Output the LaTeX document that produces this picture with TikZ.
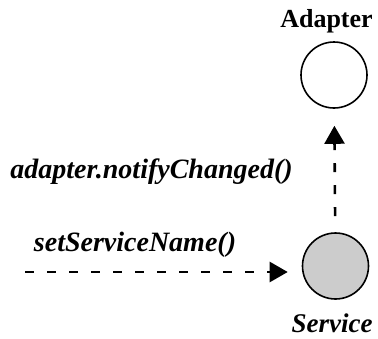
\documentclass[tikz,border=0pt]{standalone}
\usepackage{fontspec}
\setmainfont{Liberation Serif}
\usetikzlibrary{arrows.meta}
\begin{document}
\begin{tikzpicture}[x=1pt,y=-1pt,
    component/.style ={circle, draw, line width=1.6pt, minimum size=66pt, inner sep=0pt},
    call/.style ={line width=2.6pt, dash pattern=on 9pt off 13pt, -{Triangle[length=18pt,width=20pt]}},
    title/.style ={font=\fontsize{26}{30}\selectfont\bfseries, anchor=base, inner sep=0pt},
    message/.style ={font=\fontsize{28}{32}\selectfont\bfseries\itshape, anchor=base, inner sep=0pt}]
   \useasboundingbox (0,0) rectangle (378,338);
   \node[component] (A) at (334,75)  {};
   \node[component, fill=black!20] (S)  at (335.5,266)  {};
   \coordinate (in) at (25,272);

   \node[title] (Alabel) at (326.5,27) {Adapter};
   \node[message, font=\fontsize{27}{31}\selectfont\bfseries\itshape] (Slabel) at (332,332) {Service};
   \node[message] (notify) at (151.5,178) {adapter.notifyChanged()};
   \node[message] (set) at (135,251) {setServiceName()};

   \draw[call, shorten >=14pt] (in) to (in -| S.west);
   \draw[call, shorten <=16pt, shorten >=17pt] (S) to (A);
 \end{tikzpicture}
\end{document}
